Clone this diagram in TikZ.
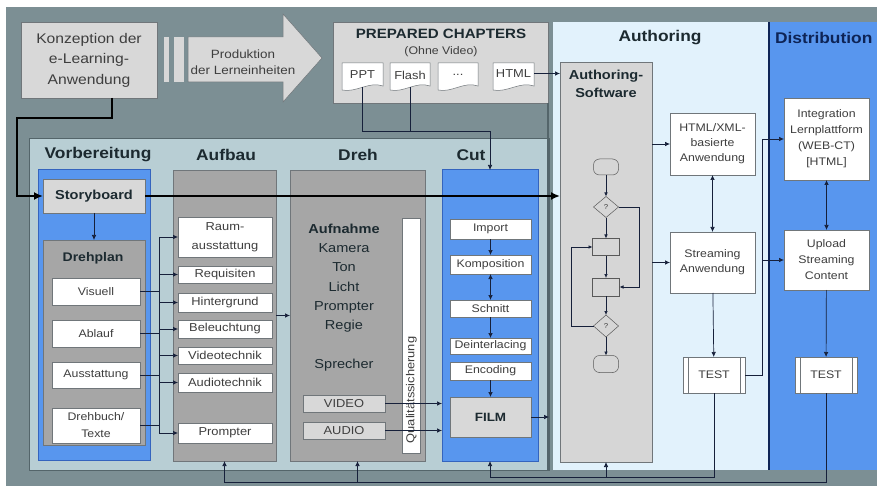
\documentclass[tikz,border=0pt]{standalone}
\usepackage{fontspec}
\setmainfont{Liberation Sans}[FakeStretch=1.12]
\usetikzlibrary{arrows.meta,shapes.geometric}
\definecolor{slate}{RGB}{124,143,148}
\definecolor{slatedark}{RGB}{84,101,106}
\definecolor{lgray}{RGB}{216,216,216}
\definecolor{midpanel}{RGB}{184,206,212}
\definecolor{colgray}{RGB}{166,166,166}
\definecolor{bluefill}{RGB}{88,150,238}
\definecolor{blueline}{RGB}{52,100,190}
\definecolor{authbg}{RGB}{226,242,252}
\definecolor{swgray}{RGB}{214,214,214}
\definecolor{boxline}{RGB}{112,118,122}
\definecolor{wirecol}{RGB}{22,32,58}
\definecolor{txt}{RGB}{62,62,62}
\definecolor{headtxt}{RGB}{28,42,48}
\definecolor{navy}{RGB}{14,36,86}
\newcommand\fsz[2]{\fontsize{#1}{#2}\selectfont}
% document symbol: flat top, wavy bottom
\newcommand\docpath[4]{\filldraw[fill=white, draw=boxline, line width=0.5pt]
  (#1,#2) -- (#3,#2) -- (#3,{#4-4}) .. controls ({#3-14},{#4-9}) and ({#1+14},{#4+3}) .. (#1,#4) -- cycle;}

\begin{document}
\begin{tikzpicture}[x=1pt,y=-1pt,
  spanbox/.style args={#1/#2/#3/#4}{at={({(#1+#3)/2},{(#2+#4)/2})},
     minimum width={(#3-#1)*1pt}, minimum height={(#4-#2)*1pt}},
  base/.style={inner sep=0pt, outer sep=0pt, align=center, text=txt},
  lbox/.style={base, fill=lgray, draw=boxline, line width=0.6pt},
  wbox/.style={base, fill=white, draw=boxline, line width=0.5pt},
  gcol/.style={base, fill=colgray, draw=boxline, line width=0.6pt},
  bcol/.style={base, fill=bluefill, draw=blueline, line width=1pt},
  head/.style={base, text=headtxt, font=\bfseries\fsz{15.5}{18}},
  wire/.style={draw=wirecol, line width=0.7pt},
  arr/.style={wire, -{Latex[length=5pt,width=4.5pt]}},
  darr/.style={wire, {Latex[length=5pt,width=4.5pt]}-{Latex[length=5pt,width=4.5pt]}},
  farr/.style={draw=wirecol, line width=0.6pt, -{Latex[length=4pt,width=3.5pt]}},
  bigflow/.style={draw=black, line width=2.4pt, -{Latex[length=9pt,width=8pt]}},
  flow/.style={base, fill=swgray, draw=gray!70!black, line width=0.5pt},
  boxtxt/.style={font=\fsz{11.5}{13}},
  smalltxt/.style={font=\fsz{11}{13}}]

\useasboundingbox (0,0) rectangle (877,486);
\fill[white] (0,0) rectangle (877,486);
\fill[slate] (6,7) rectangle (877,486);

% ---------- large panels ----------
\node[base, fill=midpanel, draw=slatedark, line width=0.8pt, spanbox=29/138/549/470] (mid) {};
\node[base, fill=authbg, spanbox=553/22/769/470] (auth) {};
\node[base, fill=bluefill, spanbox=769/22/877/470] (dist) {};
\draw[navy, line width=2pt] (dist.north west) -- (dist.south west);

% ---------- top row ----------
\node[lbox, spanbox=21/22/157/98, font=\fsz{14}{20.5}] (konz) {Konzeption der\\e-Learning-\\Anwendung};
\fill[lgray] (164,37) rectangle (169,82);
\fill[lgray] (174,37) rectangle (184,82);
\filldraw[fill=lgray, draw=boxline, line width=0.5pt]
  (188,37) -- (283,37) -- (283,14) -- (322,58) -- (283,102) -- (283,82) -- (188,82) -- cycle;
\node[base, font=\fsz{12}{16}] (prod) at (243,62) {Produktion\\der Lerneinheiten};

\node[lbox, spanbox=333/22/548/103] (prep) {};
\draw[slatedark, line width=1.8pt] (prep.south east) -- (prep.south east |- mid.south);
\node[base, text=headtxt, font=\bfseries\fsz{13.5}{16}] (preptitle) at (441,34) {PREPARED CHAPTERS};
\node[base, font=\fsz{11}{13}] (prepsub) at (441,52) {(Ohne Video)};
\docpath{342}{63}{383}{90}
\docpath{390}{63}{430}{90}
\docpath{438}{63}{478}{90}
\docpath{493}{63}{534}{90}
\node[base, boxtxt, spanbox=342/63/383/87] (ppt) {PPT};
\node[base, boxtxt, spanbox=390/63/430/87] (flash) {Flash};
\node[base, boxtxt, spanbox=438/63/478/87] (dots) {...};
\node[base, boxtxt, spanbox=493/63/534/84] (htmldoc) {HTML};

% ---------- column titles ----------
\node[head] (tvorb) at (98,155) {Vorbereitung};
\node[head] (taufb) at (226,155) {Aufbau};
\node[head] (tdreh) at (358,155) {Dreh};
\node[head] (tcut) at (471,155) {Cut};
\node[head] (tauth) at (660,38) {Authoring};
\node[head, text=navy, anchor=west] (tdist) at (775,38) {Distribution};

% ---------- Vorbereitung ----------
\node[bcol, spanbox=38/170/150/460] (vorb) {};
\node[lbox, spanbox=43/179/145/213, text=headtxt, font=\bfseries\fsz{13}{15}] (story) {Storyboard};
\node[gcol, spanbox=43/240/145/445] (drehplan) {};
\node[base, text=headtxt, font=\bfseries\fsz{12.5}{15}] (drehplant) at (93,258) {Drehplan};
\node[wbox, smalltxt, spanbox=52/278/140/305] (visuell) {Visuell};
\node[wbox, smalltxt, spanbox=52/320/140/347] (ablauf) {Ablauf};
\node[wbox, smalltxt, spanbox=52/362/140/388] (ausst) {Ausstattung};
\node[wbox, font=\fsz{11}{17}, spanbox=52/408/140/443] (drehbuch) {Drehbuch/\\Texte};

% ---------- Aufbau ----------
\node[gcol, spanbox=173/170/276/461] (aufbau) {};
\node[wbox, font=\fsz{11.5}{19}, spanbox=178/217/272/257] (raum) {Raum-\\ausstattung};
\node[wbox, boxtxt, spanbox=178/266/272/283] (requ) {Requisiten};
\node[wbox, boxtxt, spanbox=178/293/272/312] (hint) {Hintergrund};
\node[wbox, boxtxt, spanbox=178/320/272/338] (bel) {Beleuchtung};
\node[wbox, boxtxt, spanbox=178/347/272/364] (vtech) {Videotechnik};
\node[wbox, boxtxt, spanbox=178/373/272/392] (atech) {Audiotechnik};
\node[wbox, boxtxt, spanbox=178/423/272/443] (promp) {Prompter};

% ---------- Dreh ----------
\node[gcol, spanbox=290/170/425/461] (dreh) {};
\node[base, text=headtxt, font=\fsz{13}{19.3}] (drehtext) at (344,297.5)
  {\textbf{Aufnahme}\\Kamera\\Ton\\Licht\\Prompter\\Regie\\[19.3pt]Sprecher};
\node[wbox, spanbox=402/218/420/453] (qs) {};
\node[base, rotate=90, font=\fsz{11.5}{13}] (qstext) at (411.5,390) {Qualitätssicherung};
\node[lbox, boxtxt, spanbox=303/395/385/412] (video) {VIDEO};
\node[lbox, boxtxt, spanbox=303/422/385/439] (audio) {AUDIO};

% ---------- Cut ----------
\node[bcol, spanbox=442/170/538/461] (cut) {};
\node[wbox, smalltxt, spanbox=450/219/531/239] (import) {Import};
\node[wbox, smalltxt, spanbox=450/255/531/274] (kompo) {Komposition};
\node[wbox, smalltxt, spanbox=450/300/531/317] (schnitt) {Schnitt};
\node[wbox, smalltxt, spanbox=450/338/531/354] (deint) {Deinterlacing};
\node[wbox, smalltxt, spanbox=450/362/531/380] (enc) {Encoding};
\node[lbox, text=headtxt, font=\bfseries\fsz{12}{14}, spanbox=450/397/531/437] (film) {FILM};

% ---------- Authoring ----------
\node[base, fill=swgray, draw=boxline, line width=0.6pt, spanbox=560/62/652/462] (authsw) {};
\node[base, text=headtxt, font=\bfseries\fsz{13}{17.5}] (authswt) at (606,84) {Authoring-\\Software};
\node[flow, rounded corners=6pt, minimum width=25pt, minimum height=16pt] (t1) at (606,167) {};
\node[flow, diamond, minimum width=25pt, minimum height=21pt, font=\fsz{7}{8}] (d1) at (606,207) {?};
\node[flow, minimum width=27pt, minimum height=17pt] (r1) at (606,247) {};
\node[flow, minimum width=27pt, minimum height=18pt] (r2) at (606,287) {};
\node[flow, diamond, minimum width=25pt, minimum height=22pt, font=\fsz{7}{8}] (d2) at (606,326) {?};
\node[flow, rounded corners=6pt, minimum width=25pt, minimum height=17pt] (t2) at (606,364) {};

\node[wbox, smalltxt, font=\fsz{11}{15}, spanbox=670/113/755/175] (htmlapp) {HTML/XML-\\basierte\\Anwendung};
\node[wbox, font=\fsz{11}{15}, spanbox=670/232/755/293] (stream) {Streaming\\Anwendung};
\node[wbox, smalltxt, spanbox=683/357/745/393] (testa) {TEST};

% ---------- Distribution ----------
\node[wbox, font=\fsz{11}{16}, spanbox=784/98/869/180] (integ) {Integration\\Lernplattform\\(WEB-CT)\\{[HTML]}};
\node[wbox, font=\fsz{11}{16}, spanbox=784/230/869/290] (upload) {Upload\\Streaming\\Content};
\node[wbox, smalltxt, spanbox=795/357/857/393] (testd) {TEST};

\foreach \t in {testa,testd} {
  \draw[boxline, line width=0.5pt] ([xshift=5pt]\t.north west) -- ([xshift=5pt]\t.south west);
  \draw[boxline, line width=0.5pt] ([xshift=-5pt]\t.north east) -- ([xshift=-5pt]\t.south east);
}

% ---------- connectors ----------
\coordinate (jn) at (490,131);
\draw[wire] (flash.south) -- (flash.south |- jn);
\draw[arr] (ppt.south) |- (jn) -- (cut.north);
\draw[arr] (htmldoc.east) -- (htmldoc.east -| authsw.west);

\coordinate (bus) at (159,300);
\foreach \s in {visuell,ablauf,ausst,drehbuch}
  \draw[wire] (\s.east) -- (\s.east -| bus);
\draw[wire] (raum.west -| bus) -- (promp.west -| bus);
\foreach \n in {raum,requ,hint,bel,vtech,atech,promp}
  \draw[arr] (\n.west -| bus) -- (\n.west);
\draw[arr] (story) -- (drehplan);
\draw[arr] (aufbau) -- (dreh);

\draw[arr] (video.east) -- (video.east -| cut.west);
\draw[arr] (audio.east) -- (audio.east -| cut.west);
\draw[arr] (import) -- (kompo);
\draw[darr] (kompo) -- (schnitt);
\draw[arr] (schnitt) -- (deint);
\draw[arr] (enc) -- (film);
\draw[arr] (film.east) -- (film.east -| mid.east);

\draw[farr] (t1) -- (d1);
\draw[farr] (d1) -- (r1);
\draw[farr] (r1) -- (r2);
\draw[farr] (r2) -- (d2);
\draw[farr] (d2) -- (t2);
\draw[farr] (d1.east) -- ++(21,0) |- (r2.east);
\draw[farr] (d2.west) -- ++(-22,0) |- (r1.west);

\draw[arr] (authsw.east |- htmlapp) -- (htmlapp.west);
\draw[arr] (authsw.east |- stream) -- (stream.west);
\draw[darr] (htmlapp) -- (stream);
\draw[arr] (stream) -- (testa);
\coordinate (fb) at (762,300);
\draw[arr] (testa.east) -| (fb |- integ) -- (integ.west);
\draw[arr] (fb |- upload) -- (upload.west);
\draw[darr] (integ) -- (upload);
\draw[arr] (upload) -- (testd);

% feedback along the bottom
\coordinate (lowA) at (0,482);
\coordinate (lowB) at (0,477);
\draw[arr] (testd.south) -- (testd.south |- lowA) -| (aufbau.south);
\draw[arr] (dreh.south |- lowA) -- (dreh.south);
\draw[arr] (testa.south) -- (testa.south |- lowB) -| (cut.south);
\draw[arr] (authsw.south |- lowB) -- (authsw.south);

% main production flow
\coordinate (kturn) at (17,118);
\draw[bigflow] ([xshift=23pt]konz.south) |- (kturn) |- (story.west);
\draw[bigflow] (story.east) -- (story.east -| authsw.west);
\end{tikzpicture}
\end{document}
